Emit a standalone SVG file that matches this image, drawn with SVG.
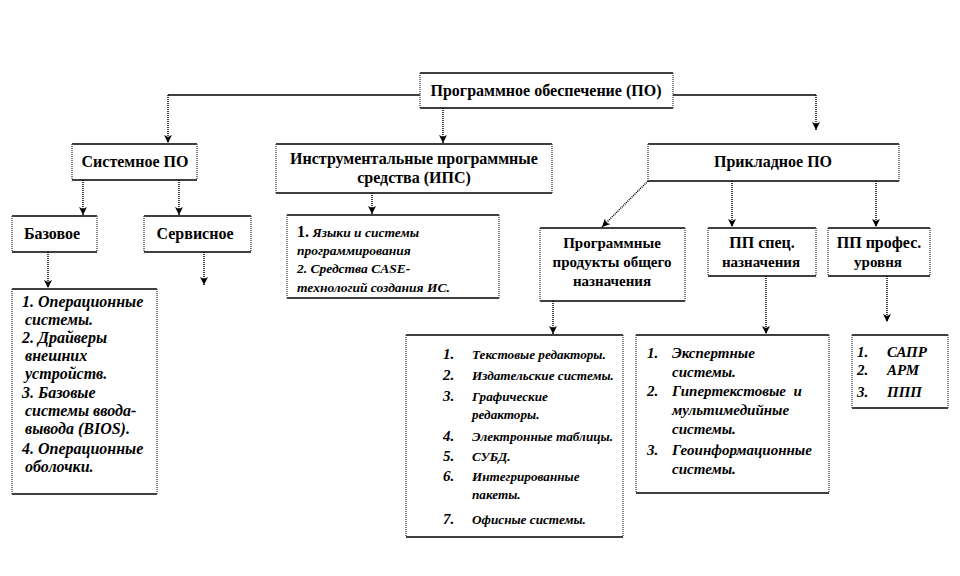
<svg xmlns="http://www.w3.org/2000/svg" width="960" height="576" viewBox="0 0 960 576">
<style>
.bg{fill:#fff}
.box{fill:#fff;stroke:none}
.hb{stroke:#000;stroke-width:1.5;fill:none}
.vs{stroke:#555;stroke-width:1.5;stroke-dasharray:1 1;fill:none}
.t{font-family:'Liberation Serif','Times New Roman',serif;font-weight:bold;font-size:16px;text-anchor:middle;fill:#000}
.ts{font-size:15px}
.li{font-family:'Liberation Serif','Times New Roman',serif;font-weight:bold;font-style:italic;font-size:14px;fill:#000}
.l16{font-size:16px}
.l15{font-size:15px}
.l135{font-size:13.5px}
.l13{font-size:13.2px}
.c{stroke:#000;stroke-width:1.3;fill:none}
.cd{stroke:#000;stroke-width:1.5;stroke-dasharray:1 1;fill:none}
</style>
<defs>
<marker id="ah" viewBox="0 0 8 8" refX="8" refY="4" markerWidth="8" markerHeight="8" markerUnits="userSpaceOnUse" orient="auto">
<path d="M0,0 L8,4 L0,8 L2,4 z" fill="#000"/>
</marker>
</defs>
<rect class="bg" x="0" y="0" width="960" height="576"/>

<g id="connectors">
<path class="c" d="M420,95 H168"/>
<path class="cd" d="M168,95 V143" marker-end="url(#ah)"/>
<path class="cd" d="M443,108 V143" marker-end="url(#ah)"/>
<path class="c" d="M673,95 H816"/>
<path class="cd" d="M816,95 V130" marker-end="url(#ah)"/>
<path class="cd" d="M83,180 V215" marker-end="url(#ah)"/>
<path class="cd" d="M179,180 V215" marker-end="url(#ah)"/>
<path class="cd" d="M48,252 V288" marker-end="url(#ah)"/>
<path class="cd" d="M204,252 V285" marker-end="url(#ah)"/>
<path class="cd" d="M372,193 V214" marker-end="url(#ah)"/>
<path class="cd" d="M648,181 L602,227" marker-end="url(#ah)"/>
<path class="cd" d="M732,181 V227" marker-end="url(#ah)"/>
<path class="cd" d="M876,181 V227" marker-end="url(#ah)"/>
<path class="cd" d="M553,301 V334" marker-end="url(#ah)"/>
<path class="cd" d="M766,276 V334" marker-end="url(#ah)"/>
<path class="cd" d="M887,276 V322" marker-end="url(#ah)"/>
</g>

<g id="root">
<rect class="box" x="420" y="73" width="253" height="35"/>
<path class="hb" d="M420,73 H673 M420,108 H673"/>
<path class="vs" d="M420,73 V108 M673,73 V108"/>
<text class="t" x="546" y="96">Программное обеспечение (ПО)</text>
</g>

<g id="sys">
<rect class="box" x="72" y="144" width="125" height="36"/>
<path class="hb" d="M72,144 H197 M72,180 H197"/>
<path class="vs" d="M72,144 V180 M197,144 V180"/>
<text class="t" x="135" y="167">Системное ПО</text>
</g>

<g id="ips">
<rect class="box" x="276" y="144" width="276" height="49"/>
<path class="hb" d="M276,144 H552 M276,193 H552"/>
<path class="vs" d="M276,144 V193 M552,144 V193"/>
<text class="t" x="414" y="164">Инструментальные программные</text>
<text class="t" x="414" y="183">средства (ИПС)</text>
</g>

<g id="app">
<rect class="box" x="648" y="144" width="251" height="37"/>
<path class="hb" d="M648,144 H899 M648,181 H899"/>
<path class="vs" d="M648,144 V181 M899,144 V181"/>
<text class="t" x="773" y="167">Прикладное ПО</text>
</g>

<g id="base">
<rect class="box" x="12" y="216" width="85" height="36"/>
<path class="hb" d="M12,216 H97 M12,252 H97"/>
<path class="vs" d="M12,216 V252 M97,216 V252"/>
<text class="t" x="52" y="239">Базовое</text>
</g>

<g id="serv">
<rect class="box" x="144" y="216" width="107" height="36"/>
<path class="hb" d="M144,216 H251 M144,252 H251"/>
<path class="vs" d="M144,216 V252 M251,216 V252"/>
<text class="t" x="195" y="239">Сервисное</text>
</g>

<g id="baseList">
<rect class="box" x="12" y="289" width="145" height="205"/>
<path class="hb" d="M12,289 H157 M12,494 H157"/>
<path class="vs" d="M12,289 V494 M157,289 V494"/>
<text class="li l16" x="22" y="307">1. Операционные</text>
<text class="li l16" x="25" y="325">системы.</text>
<text class="li l16" x="22" y="343">2. Драйверы</text>
<text class="li l16" x="25" y="361">внешних</text>
<text class="li l16" x="25" y="379">устройств.</text>
<text class="li l16" x="22" y="398">3. Базовые</text>
<text class="li l16" x="25" y="416">системы ввода-</text>
<text class="li l16" x="25" y="434">вывода (BIOS).</text>
<text class="li l16" x="22" y="454">4. Операционные</text>
<text class="li l16" x="25" y="472">оболочки.</text>
</g>

<g id="ipsList">
<rect class="box" x="287" y="215" width="212" height="83"/>
<path class="hb" d="M287,215 H499 M287,298 H499"/>
<path class="vs" d="M287,215 V298 M499,215 V298"/>
<text class="li l135" x="297" y="237"><tspan font-style="normal" font-size="16">1.</tspan> Языки и системы</text>
<text class="li l135" x="297" y="255">программирования</text>
<text class="li l135" x="297" y="273">2. Средства CASE-</text>
<text class="li l135" x="297" y="292">технологий создания ИС.</text>
</g>

<g id="gen">
<rect class="box" x="540" y="228" width="145" height="73"/>
<path class="hb" d="M540,228 H685 M540,301 H685"/>
<path class="vs" d="M540,228 V301 M685,228 V301"/>
<text class="t ts" x="612" y="248">Программные</text>
<text class="t ts" x="612" y="267">продукты общего</text>
<text class="t ts" x="612" y="286">назначения</text>
</g>

<g id="spec">
<rect class="box" x="708" y="228" width="108" height="48"/>
<path class="hb" d="M708,228 H816 M708,276 H816"/>
<path class="vs" d="M708,228 V276 M816,228 V276"/>
<text class="t" x="762" y="248">ПП спец.</text>
<text class="t ts" x="761" y="267">назначения</text>
</g>

<g id="prof">
<rect class="box" x="828" y="228" width="102" height="48"/>
<path class="hb" d="M828,228 H930 M828,276 H930"/>
<path class="vs" d="M828,228 V276 M930,228 V276"/>
<text class="t" x="879" y="248">ПП профес.</text>
<text class="t ts" x="878" y="267">уровня</text>
</g>

<g id="genList">
<rect class="box" x="406" y="335" width="217" height="202"/>
<path class="hb" d="M406,335 H623 M406,537 H623"/>
<path class="vs" d="M406,335 V537 M623,335 V537"/>
<text class="li l15" x="443" y="359">1.</text><text class="li l13" x="472" y="359">Текстовые редакторы.</text>
<text class="li l15" x="443" y="380">2.</text><text class="li l13" x="472" y="380">Издательские системы.</text>
<text class="li l15" x="443" y="401">3.</text><text class="li l13" x="472" y="401">Графические</text>
<text class="li l13" x="472" y="419">редакторы.</text>
<text class="li l15" x="443" y="441">4.</text><text class="li l13" x="472" y="441">Электронные таблицы.</text>
<text class="li l15" x="443" y="461">5.</text><text class="li l13" x="472" y="461">СУБД.</text>
<text class="li l15" x="443" y="481">6.</text><text class="li l13" x="472" y="481">Интегрированные</text>
<text class="li l13" x="472" y="499">пакеты.</text>
<text class="li l15" x="443" y="524">7.</text><text class="li l13" x="472" y="524">Офисные системы.</text>
</g>

<g id="specList">
<rect class="box" x="636" y="335" width="193" height="158"/>
<path class="hb" d="M636,335 H829 M636,493 H829"/>
<path class="vs" d="M636,335 V493 M829,335 V493"/>
<text class="li l15" x="647" y="358">1.</text><text class="li l15" x="672" y="358">Экспертные</text>
<text class="li l15" x="672" y="377">системы.</text>
<text class="li l15" x="647" y="396">2.</text><text class="li l15" x="672" y="396" xml:space="preserve">Гипертекстовые  и</text>
<text class="li l15" x="672" y="415">мультимедийные</text>
<text class="li l15" x="672" y="434">системы.</text>
<text class="li l15" x="647" y="455">3.</text><text class="li l15" x="672" y="455">Геоинформационные</text>
<text class="li l15" x="672" y="474">системы.</text>
</g>

<g id="profList">
<rect class="box" x="852" y="335" width="96" height="73"/>
<path class="hb" d="M852,335 H948 M852,408 H948"/>
<path class="vs" d="M852,335 V408 M948,335 V408"/>
<text class="li l15" x="857" y="357">1.</text><text class="li l15" x="887" y="357">САПР</text>
<text class="li l15" x="857" y="375">2.</text><text class="li l15" x="887" y="375">АРМ</text>
<text class="li l15" x="857" y="397">3.</text><text class="li l15" x="887" y="397">ППП</text>
</g>
</svg>
